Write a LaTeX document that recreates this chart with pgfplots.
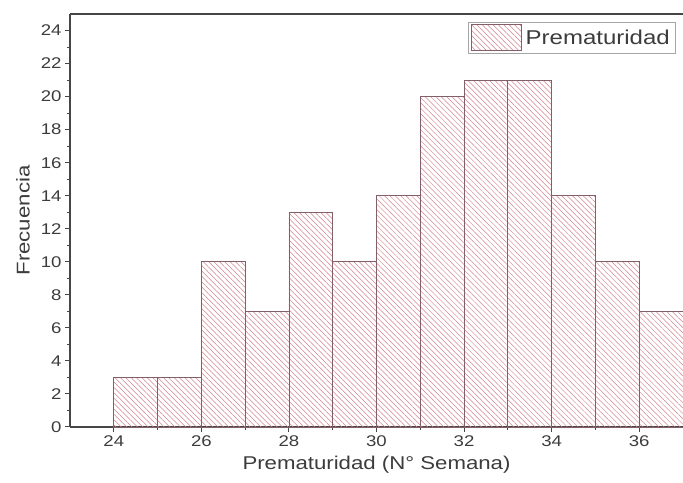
\documentclass[border=0pt]{standalone}
\usepackage{pgfplots}
\pgfplotsset{compat=1.18}
\usepackage{fontspec}
\setmainfont{Liberation Sans}[FakeStretch=1.2]
\usetikzlibrary{patterns.meta}
\definecolor{axc}{RGB}{70,70,70}
\definecolor{txc}{RGB}{60,60,60}
\definecolor{hatchc}{RGB}{210,130,140}
\definecolor{edgec}{RGB}{130,95,105}
\begin{document}
\begin{tikzpicture}[x=1pt,y=1pt]
\begin{axis}[
  at={(0,0)}, anchor=south west,
  scale only axis, width=613pt, height=413pt,
  xmin=23, xmax=37, ymin=0, ymax=25,
  axis x line*=bottom, axis y line*=left,
  axis line style={axc, line width=1.6pt, -},
  xtick={24,26,...,36}, minor xtick={25,27,...,35},
  ytick={0,2,...,24}, minor ytick={1,3,...,23},
  tick align=outside,
  major tick length=5pt, minor tick length=3pt,
  every tick/.style={axc, line width=1pt},
  tick label style={font=\fontsize{15.5}{16}\selectfont, text=txc},
  /pgf/number format/assume math mode=true,
  xlabel={Prematuridad (N° Semana)},
  ylabel={Frecuencia},
  label style={font=\fontsize{18.5}{20}\selectfont, text=txc},
  xlabel style={yshift=-3pt},
  ylabel style={yshift=4pt},
  legend style={at={(rel axis cs:0.989,0.981)}, anchor=north east,
    draw=gray!70, line width=1pt, inner sep=2pt,
    font=\fontsize{20}{22}\selectfont, text=txc,
    nodes={inner xsep=4pt}},
  legend cell align=left,
  legend image code/.code={\draw[#1] (0pt,-13pt) rectangle (50pt,13pt);},
  clip=false,
]
\addplot[ybar interval, draw=edgec, line width=0.8pt, fill=white,
  pattern={Lines[angle=-45,distance=3.8pt,line width=0.5pt]},
  pattern color=hatchc]
  coordinates {(24,3)(25,3)(26,10)(27,7)(28,13)(29,10)(30,14)(31,20)(32,21)(33,21)(34,14)(35,10)(36,7)(37,7)};
\addlegendentry{Prematuridad}
\draw[axc, line width=1.6pt] (rel axis cs:0,1) -- (rel axis cs:1,1);
\coordinate (bl) at (rel axis cs:0,0);
\coordinate (tr) at (rel axis cs:1,1);
\end{axis}
\pgfresetboundingbox
\path ([shift={(-70pt,-56pt)}]bl) rectangle ([shift={(0pt,14pt)}]tr);
\end{tikzpicture}
\end{document}
